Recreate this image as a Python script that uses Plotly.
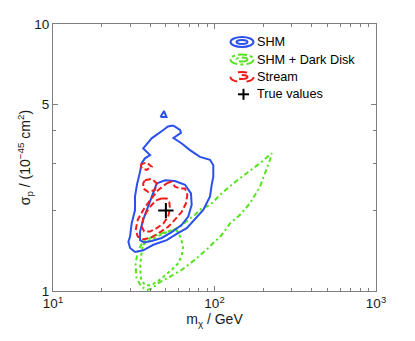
import plotly.graph_objects as go

# WIMP mass m_chi (GeV) vs cross-section sigma_p (1e-45 cm^2), contour outlines
shm_outer_m = [55.3, 61.2, 62.0, 55.7, 62.7, 70.5, 81.3, 93.8, 98.3, 98.3, 96.1, 93.8,
               85.2, 75.7, 67.3, 59.7, 50.6, 41.8, 36.2, 32.2, 30.0, 29.3, 30.0, 30.7,
               32.2, 32.2, 33.1, 34.6, 35.4, 37.1, 39.9, 36.2, 40.8, 48.2, 51.5]
shm_outer_s = [4.17, 4.01, 3.91, 3.74, 3.57, 3.37, 3.18, 3.10, 2.96, 2.68, 2.50, 2.26,
               2.01, 1.85, 1.72, 1.65, 1.55, 1.49, 1.42, 1.40, 1.45, 1.53, 1.60, 1.79,
               2.01, 2.26, 2.50, 2.80, 3.01, 3.14, 3.23, 3.42, 3.73, 4.01, 4.13]
shm_island_m = [46.3, 50.4, 48.7]
shm_island_s = [4.48, 4.48, 4.72]
shm_inner_m = [43.9, 49.4, 56.9, 65.7, 71.5, 72.2, 68.8, 62.7, 54.3, 47.1, 40.8, 36.6,
               34.6, 34.6, 36.2, 38.9, 41.4]
shm_inner_s = [2.53, 2.60, 2.58, 2.50, 2.32, 2.10, 1.90, 1.77, 1.66, 1.58, 1.54, 1.52,
               1.55, 1.67, 1.85, 2.07, 2.32]

disk_outer_m = [55.3, 61.2, 68.8, 75.7, 83.3, 93.8, 108.2, 130.8, 158.2, 191.3, 226.1,
                220.7, 205.4, 191.3, 165.9, 143.8, 124.7, 110.8, 91.5, 75.7, 62.7, 51.7,
                44.9, 40.8, 38.2, 35.1, 32.9, 32.4, 33.4, 35.6, 39.9, 46.0]
disk_outer_s = [1.69, 1.74, 1.85, 1.93, 2.04, 2.10, 2.29, 2.53, 2.76, 3.01, 3.28,
                3.10, 2.76, 2.46, 2.13, 1.93, 1.79, 1.62, 1.45, 1.31, 1.20, 1.12,
                1.07, 1.02, 1.01, 1.04, 1.12, 1.25, 1.40, 1.51, 1.58, 1.64]
disk_inner_m = [36.1, 39.9, 46.0, 53.0, 58.6, 62.0, 63.8, 62.7, 59.7, 54.3, 48.2, 43.9,
                39.9, 37.1, 35.1, 34.6, 35.1]
disk_inner_s = [1.49, 1.55, 1.62, 1.68, 1.68, 1.58, 1.46, 1.36, 1.27, 1.20, 1.13, 1.08,
                1.05, 1.05, 1.11, 1.22, 1.35]

stream_outer_m = [50.6, 54.3, 56.9, 61.2, 65.7, 67.9, 66.6, 62.7, 56.9, 51.7, 46.0, 40.8,
                  36.2, 33.5, 32.5, 33.5, 36.2, 39.9, 44.9, 48.2]
stream_outer_s = [2.53, 2.57, 2.46, 2.42, 2.42, 2.29, 2.13, 1.98, 1.85, 1.74, 1.66, 1.59,
                  1.56, 1.60, 1.69, 1.85, 2.01, 2.19, 2.39, 2.48]
stream_inner_m = [47.1, 50.6, 52.5, 53.0, 51.7, 48.2, 43.9, 39.9, 36.7, 35.4, 36.2, 38.0,
                  40.8, 43.9]
stream_inner_s = [2.22, 2.22, 2.15, 2.04, 1.90, 1.79, 1.72, 1.67, 1.67, 1.74, 1.87, 1.98,
                  2.10, 2.19]
stream_loop_m = [37.1, 40.8, 43.9, 42.8, 38.9, 36.2, 36.2]
stream_loop_s = [2.60, 2.63, 2.53, 2.39, 2.35, 2.42, 2.53]
stream_island_m = [34.9, 38.0, 40.8, 38.0, 35.4]
stream_island_s = [2.98, 3.03, 2.92, 2.84, 2.88]

true_m = [50]
true_s = [2]

legend_labels = ["SHM", "SHM + Dark Disk", "Stream", "True values"]

BLUE = "#2b50ee"
RED = "#f01c1c"
GREEN = "#55e31f"
AXIS = "#7f7f7f"
FONT = "Liberation Sans, Arial, sans-serif"

fig = go.Figure()


def add_contour(xs, ys, color, dash):
    fig.add_trace(go.Scatter(
        x=xs + xs[:1], y=ys + ys[:1], mode="lines",
        line=dict(color=color, width=2, dash=dash),
        showlegend=False, hoverinfo="skip",
    ))


add_contour(disk_outer_m, disk_outer_s, GREEN, "5px,3px,2px,3px")
add_contour(disk_inner_m, disk_inner_s, GREEN, "3px,3px")
add_contour(shm_outer_m, shm_outer_s, BLUE, "solid")
add_contour(shm_island_m, shm_island_s, BLUE, "solid")
add_contour(shm_inner_m, shm_inner_s, BLUE, "solid")
add_contour(stream_outer_m, stream_outer_s, RED, "6px,3px")
add_contour(stream_inner_m, stream_inner_s, RED, "6px,3px")
add_contour(stream_loop_m, stream_loop_s, RED, "6px,3px")
add_contour(stream_island_m, stream_island_s, RED, "5px,3px")

fig.add_trace(go.Scatter(
    x=true_m, y=true_s, mode="markers",
    marker=dict(symbol="cross-thin-open", size=11, color="black",
                line=dict(color="black", width=2)),
    showlegend=False, hoverinfo="skip",
))

# page body has an 8px margin, so the figure is drawn 8px in from the corner
PAGE = 8
L, R, T, B = 53, 376, 24, 291


def px(x):
    return (x - L) / (R - L)


def py(y):
    return (B - y) / (B - T)


# hand-drawn legend (ellipse icons like the original)
styles = [(BLUE, "solid"), (GREEN, "dashdot"), (RED, "dash")]
row_y = [42, 59.5, 77, 94.3]
shapes = []
annotations = []
for i, label in enumerate(legend_labels):
    y = row_y[i]
    if i < 3:
        col, dash = styles[i]
        shapes.append(dict(type="circle", xref="paper", yref="paper",
                           x0=px(230.5), x1=px(253.5), y0=py(y + 5), y1=py(y - 5),
                           line=dict(color=col, width=2, dash=dash)))
        shapes.append(dict(type="circle", xref="paper", yref="paper",
                           x0=px(236.5), x1=px(247.5), y0=py(y + 2), y1=py(y - 2),
                           line=dict(color=col, width=2, dash=dash)))
    else:
        shapes.append(dict(type="line", xref="paper", yref="paper",
                           x0=px(238), x1=px(249), y0=py(y), y1=py(y),
                           line=dict(color="black", width=2)))
        shapes.append(dict(type="line", xref="paper", yref="paper",
                           x0=px(243.5), x1=px(243.5), y0=py(y - 5.5), y1=py(y + 5.5),
                           line=dict(color="black", width=2)))
    annotations.append(dict(text=label, xref="paper", yref="paper",
                            x=px(255), y=py(y), xanchor="left", yanchor="middle",
                            showarrow=False, font=dict(size=12.7, color="black", family=FONT)))

axis_common = dict(
    type="log", showgrid=False, zeroline=False, showline=True, automargin=False,
    linecolor=AXIS, linewidth=1, mirror="allticks",
    ticks="inside", ticklen=5, tickcolor=AXIS, tickwidth=1,
    tickfont=dict(size=13.5, color="#1a1a1a", family=FONT),
)

fig.update_layout(
    width=415 - PAGE, height=341 - PAGE,
    margin=dict(l=L - PAGE, r=415 - R, t=T - PAGE, b=341 - B),
    paper_bgcolor="white", plot_bgcolor="white",
    font=dict(family=FONT, size=14, color="#1a1a1a"),
    showlegend=False,
    shapes=shapes, annotations=annotations,
    xaxis=dict(
        axis_common, range=[1, 3],
        tickvals=[10, 100, 1000],
        ticktext=["10<sup>1</sup>", "10<sup>2</sup>", "10<sup>3</sup>"],
        minor=dict(tickvals=[20, 30, 40, 50, 60, 70, 80, 90,
                             200, 300, 400, 500, 600, 700, 800, 900],
                   ticks="inside", ticklen=3, tickcolor=AXIS),
        title=dict(text="m<sub>χ</sub> / GeV", standoff=2, font=dict(size=14)),
    ),
    yaxis=dict(
        axis_common, range=[0, 1],
        tickvals=[1, 5, 10], ticktext=["1", "5", "10"],
        minor=dict(tickvals=[2, 3, 4], ticks="inside", ticklen=3, tickcolor=AXIS),
        title=dict(text="σ<sub>p</sub> / (10<sup>−45</sup> cm<sup>2</sup>)",
                   standoff=0, font=dict(size=14)),
    ),
)

fig.write_html("out.html")
